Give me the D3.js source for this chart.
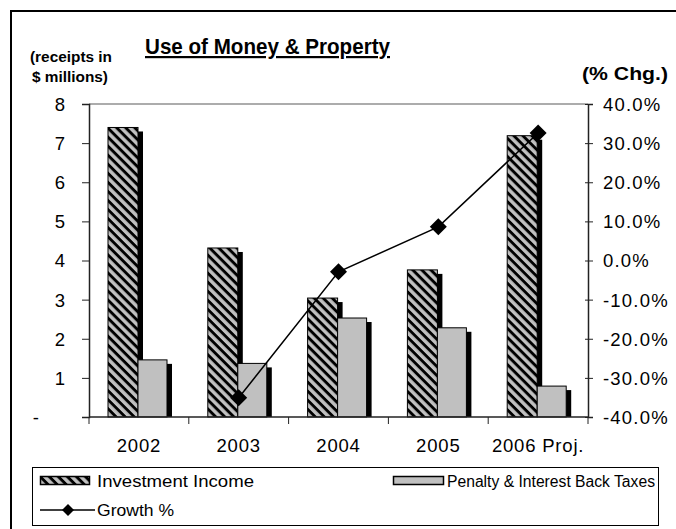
<!DOCTYPE html>
<html>
<head>
<meta charset="utf-8">
<script src="https://cdn.jsdelivr.net/npm/d3@7/dist/d3.min.js"></script>
<style>
  html, body { margin: 0; padding: 0; background: #fff; }
  svg { display: block; font-family: "Liberation Sans", Arial, sans-serif; }
</style>
</head>
<body>
<svg id="chart" width="676" height="529"></svg>
<script>
// Receipts from use of money & property, $ millions, plus year-over-year growth
const years = ["2002", "2003", "2004", "2005", "2006 Proj."];
const investmentIncome = [7.4, 4.32, 3.04, 3.76, 7.19];
const penaltyInterest = [1.46, 1.37, 2.53, 2.28, 0.79];
const growthPct = [null, -35.1, -2.9, 8.6, 32.6];
const leftTicks = [0, 1, 2, 3, 4, 5, 6, 7, 8];
const rightTicks = [-40, -30, -20, -10, 0, 10, 20, 30, 40];

const svg = d3.select("#chart");
const plot = { left: 89, right: 588, top: 104, bottom: 417 };

const x = d3.scaleBand().domain(years).range([plot.left, plot.right]).padding(0);
const yL = d3.scaleLinear().domain([0, 8]).range([plot.bottom, plot.top]);
const yR = d3.scaleLinear().domain([-40, 40]).range([plot.bottom, plot.top]);

// diagonal hatch for the investment series
const defs = svg.append("defs");
const pat = defs.append("pattern")
  .attr("id", "hatch")
  .attr("patternUnits", "userSpaceOnUse")
  .attr("width", 6.4).attr("height", 6.4)
  .attr("patternTransform", "rotate(45)");
pat.append("rect").attr("width", 6.4).attr("height", 6.4).attr("fill", "#c0c0c0");
pat.append("rect").attr("width", 6.4).attr("height", 2.9).attr("fill", "#000");

// outer frame
svg.append("path")
  .attr("d", "M11,529 L11,11 L676,11")
  .attr("fill", "none").attr("stroke", "#000").attr("stroke-width", 2);

// title
svg.append("text")
  .attr("x", 145).attr("y", 54)
  .attr("font-size", 22).attr("font-weight", "bold")
  .attr("textLength", 245).attr("lengthAdjust", "spacingAndGlyphs")
  .attr("text-decoration", "underline")
  .text("Use of Money & Property");

// axis captions
svg.append("text").attr("x", 30).attr("y", 62)
  .attr("font-size", 15).attr("font-weight", "bold")
  .attr("textLength", 82).attr("lengthAdjust", "spacingAndGlyphs")
  .text("(receipts in");
svg.append("text").attr("x", 32).attr("y", 82)
  .attr("font-size", 15).attr("font-weight", "bold")
  .attr("textLength", 76).attr("lengthAdjust", "spacingAndGlyphs")
  .text("$ millions)");
svg.append("text")
  .attr("x", 582).attr("y", 80)
  .attr("font-size", 19).attr("font-weight", "bold")
  .attr("textLength", 86).attr("lengthAdjust", "spacingAndGlyphs")
  .text("(% Chg.)");

// top border of plot area
svg.append("line")
  .attr("x1", plot.left).attr("x2", plot.right)
  .attr("y1", plot.top).attr("y2", plot.top)
  .attr("stroke", "#909090").attr("stroke-width", 1.5);

// bars with drop shadows
const bw = 30, pw = 29, off = 19, sh = { dx: 5, dy: 4 };
const groups = svg.append("g");
years.forEach((yr, i) => {
  const x0 = x(yr) + off;
  const v1 = investmentIncome[i], v2 = penaltyInterest[i];
  groups.append("rect")
    .attr("x", x0 + sh.dx).attr("y", yL(v1) + sh.dy)
    .attr("width", bw).attr("height", yL(0) - yL(v1) - sh.dy)
    .attr("fill", "#000");
  groups.append("rect")
    .attr("x", x0).attr("y", yL(v1))
    .attr("width", bw).attr("height", yL(0) - yL(v1))
    .attr("fill", "url(#hatch)").attr("stroke", "#000").attr("stroke-width", 1);
  const x1 = x0 + bw;
  groups.append("rect")
    .attr("x", x1 + sh.dx).attr("y", yL(v2) + sh.dy)
    .attr("width", pw).attr("height", yL(0) - yL(v2) - sh.dy)
    .attr("fill", "#000");
  groups.append("rect")
    .attr("x", x1).attr("y", yL(v2))
    .attr("width", pw).attr("height", yL(0) - yL(v2))
    .attr("fill", "#c0c0c0").attr("stroke", "#000").attr("stroke-width", 1);
});

// left axis
const axL = svg.append("g").attr("transform", `translate(${plot.left},0)`)
  .call(d3.axisLeft(yL).tickValues(leftTicks).tickSize(7).tickPadding(0)
    .tickFormat(d => d === 0 ? "-" : String(d)));
axL.select(".domain").attr("stroke", "#222").attr("stroke-width", 1.5);
axL.selectAll(".tick line").attr("stroke", "#222");
axL.selectAll(".tick text")
  .attr("font-size", 18.5).attr("fill", "#000")
  .attr("font-family", "Liberation Sans, Arial, sans-serif")
  .attr("x", d => d === 0 ? -50 : -24).attr("dy", "0.35em");

// right axis
const axR = svg.append("g").attr("transform", `translate(${plot.right},0)`)
  .call(d3.axisRight(yR).tickValues(rightTicks).tickSize(5).tickPadding(0)
    .tickFormat(d => (d < 0 ? "-" : "") + Math.abs(d).toFixed(1) + "%"));
axR.select(".domain").attr("stroke", "#222").attr("stroke-width", 1.5);
axR.selectAll(".tick line").attr("stroke", "#222").attr("x1", -3);
axR.selectAll(".tick text")
  .attr("font-size", 18.5).attr("fill", "#000").attr("letter-spacing", 1.2)
  .attr("font-family", "Liberation Sans, Arial, sans-serif")
  .attr("x", 15).attr("dy", "0.35em");

// category axis
const axB = svg.append("g").attr("transform", `translate(0,${plot.bottom})`);
axB.append("line").attr("x1", plot.left).attr("x2", plot.right)
  .attr("stroke", "#222").attr("stroke-width", 1.5);
const bounds = years.map(y => x(y)).concat([plot.right]);
axB.selectAll("line.tk").data(bounds).enter().append("line")
  .attr("class", "tk")
  .attr("x1", d => d).attr("x2", d => d).attr("y1", 0).attr("y2", 7)
  .attr("stroke", "#222");
axB.selectAll("text").data(years).enter().append("text")
  .attr("x", d => x(d) + x.bandwidth() / 2).attr("y", 35)
  .attr("text-anchor", "middle").attr("font-size", 18.5).attr("letter-spacing", 0.8)
  .text(d => d);

// growth line
const pts = years.map((yr, i) => ({ yr, v: growthPct[i] })).filter(d => d.v !== null);
const line = d3.line().x(d => x(d.yr) + x.bandwidth() / 2).y(d => yR(d.v));
svg.append("path").datum(pts).attr("d", line)
  .attr("fill", "none").attr("stroke", "#000").attr("stroke-width", 1.5);
const diamond = "M0,-8.5L8.5,0L0,8.5L-8.5,0Z";
svg.selectAll("path.mk").data(pts).enter().append("path")
  .attr("class", "mk").attr("d", diamond)
  .attr("transform", d => `translate(${x(d.yr) + x.bandwidth() / 2},${yR(d.v)})`)
  .attr("fill", "#000");

// legend
const lg = svg.append("g");
lg.append("rect").attr("x", 32.5).attr("y", 467.5).attr("width", 626).attr("height", 58)
  .attr("fill", "#fff").attr("stroke", "#000").attr("stroke-width", 1);
lg.append("rect").attr("x", 40.5).attr("y", 476.5).attr("width", 49).attr("height", 8)
  .attr("fill", "url(#hatch)").attr("stroke", "#000").attr("stroke-width", 1.5);
lg.append("text").attr("x", 97).attr("y", 487).attr("font-size", 16)
  .attr("textLength", 157).attr("lengthAdjust", "spacingAndGlyphs")
  .text("Investment Income");
lg.append("rect").attr("x", 393.5).attr("y", 476.5).attr("width", 50).attr("height", 8)
  .attr("fill", "#c0c0c0").attr("stroke", "#000").attr("stroke-width", 1.5);
lg.append("text").attr("x", 447).attr("y", 487).attr("font-size", 16)
  .attr("textLength", 208).attr("lengthAdjust", "spacingAndGlyphs")
  .text("Penalty & Interest Back Taxes");
lg.append("line").attr("x1", 40).attr("x2", 95).attr("y1", 510).attr("y2", 510)
  .attr("stroke", "#000").attr("stroke-width", 1.5);
lg.append("path").attr("d", "M0,-6L6,0L0,6L-6,0Z").attr("transform", "translate(68,510)").attr("fill", "#000");
lg.append("text").attr("x", 97).attr("y", 516).attr("font-size", 16)
  .attr("textLength", 77).attr("lengthAdjust", "spacingAndGlyphs")
  .text("Growth %");
</script>
</body>
</html>
